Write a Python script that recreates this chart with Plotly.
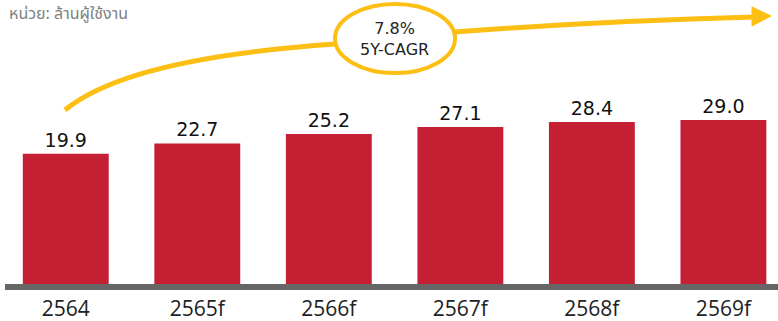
import plotly.graph_objects as go

# Data
years = ["2564", "2565f", "2566f", "2567f", "2568f", "2569f"]
users = [19.9, 22.7, 25.2, 27.1, 28.4, 29.0]
unit_label = "หน่วย: ล้านผู้ใช้งาน"
cagr_label = "7.8%<br>5Y-CAGR"

W, H = 778, 321
MB = 37                      # bottom margin (room for year labels)
PH = H - MB                  # plot-area height in px
AXIS_FLOOR = -15             # value where the bars start (axis floor)

RED = "#C41F33"
GOLD = "#FDBF13"
GREY = "#666666"


def px(x):
    return x / W


def py(y):
    return 1 - y / PH


fig = go.Figure()

fig.add_trace(go.Bar(
    x=years,
    y=[v - AXIS_FLOOR for v in users],
    base=[AXIS_FLOOR] * len(users),
    width=0.653,
    marker=dict(color=RED, line=dict(width=0)),
    text=[f"{v:.1f}" for v in users],
    textposition="outside",
    textfont=dict(family="DejaVu Sans", size=19, color="#111111"),
    cliponaxis=False,
    hoverinfo="skip",
))

shapes = []

# baseline
shapes.append(dict(type="line", xref="paper", yref="paper",
                   x0=px(5), x1=px(778), y0=py(287), y1=py(287),
                   line=dict(color=GREY, width=6)))

# growth arrow: curved lead-in, ellipse, then straight-ish run to the arrowhead
left_curve = (f"M {px(65)},{py(110)} Q {px(128)},{py(58)} {px(336)},{py(44)}")
right_run = (f"M {px(454)},{py(32)} Q {px(600)},{py(21)} {px(754)},{py(17)}")
for p in (left_curve, right_run):
    shapes.append(dict(type="path", xref="paper", yref="paper", path=p,
                       line=dict(color=GOLD, width=5)))

head = (f"M {px(752)},{py(7)} L {px(771)},{py(16)} L {px(752)},{py(26)} Z")
shapes.append(dict(type="path", xref="paper", yref="paper", path=head,
                   fillcolor=GOLD, line=dict(color=GOLD, width=1)))

shapes.append(dict(type="circle", xref="paper", yref="paper",
                   x0=px(335), x1=px(455), y0=py(4), y1=py(73),
                   fillcolor="white", line=dict(color=GOLD, width=4)))

annotations = [
    dict(text=cagr_label, xref="paper", yref="paper",
         x=px(394), y=py(39), xanchor="center", yanchor="middle",
         showarrow=False, align="center",
         font=dict(family="DejaVu Sans", size=16, color="#222222")),
    dict(text=unit_label, xref="paper", yref="paper",
         x=px(7), y=py(0), xanchor="left", yanchor="top",
         showarrow=False,
         font=dict(family="Tahoma, Noto Sans Thai, Noto Sans, sans-serif",
                   size=16, color="#7f7f7f")),
]

fig.update_layout(
    width=W, height=H,
    margin=dict(l=0, r=0, t=0, b=MB),
    paper_bgcolor="white", plot_bgcolor="white",
    showlegend=False,
    shapes=shapes,
    annotations=annotations,
    xaxis=dict(range=[-0.5, 5.415], showgrid=False, zeroline=False,
               showline=False, ticks="", ticklabelstandoff=10,
               tickfont=dict(family="Open Sans", size=21, color="#222222")),
    yaxis=dict(range=[AXIS_FLOOR, AXIS_FLOOR + PH / 3.73], visible=False,
               showgrid=False, zeroline=False),
)

fig.write_html("out.html")
